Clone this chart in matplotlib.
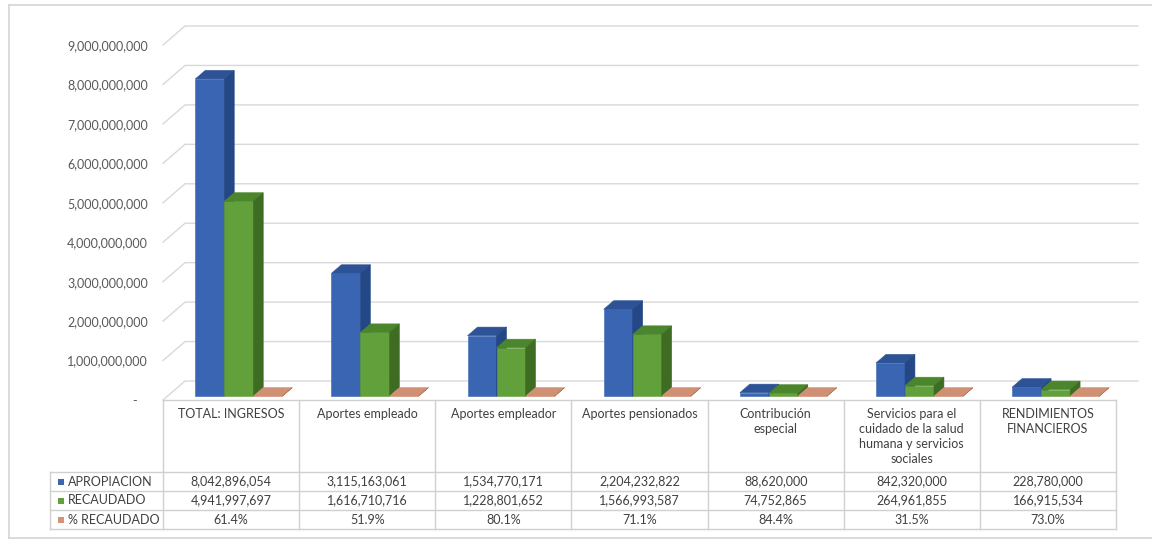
import numpy as np
import matplotlib.pyplot as plt
from matplotlib.patches import Polygon, Rectangle
from matplotlib.transforms import blended_transform_factory

plt.rcParams['font.family'] = ['Lato', 'DejaVu Sans']

categories = ['TOTAL: INGRESOS', 'Aportes empleado', 'Aportes empleador',
              'Aportes pensionados', 'Contribución\nespecial',
              'Servicios para el\ncuidado de la salud\nhumana y servicios\nsociales',
              'RENDIMIENTOS\nFINANCIEROS']
apropiacion = [8042896054, 3115163061, 1534770171, 2204232822, 88620000, 842320000, 228780000]
recaudado = [4941997697, 1616710716, 1228801652, 1566993587, 74752865, 264961855, 166915534]
pct_recaudado = [0.614, 0.519, 0.801, 0.711, 0.844, 0.315, 0.730]

series_names = ['APROPIACION', 'RECAUDADO', '% RECAUDADO']
# front, top, side
blue = ('#3a65b3', '#2d5296', '#244785')
green = ('#62a03b', '#4c862c', '#3e6c22')
salmon = ('#d39378', '#cf9074', '#b9785e')

W, H = 1152, 541
fig = plt.figure(figsize=(W / 100, H / 100), dpi=100)

def fy(py):
    return (H - py) / H

# outer chart frame (top, left, bottom; the right side runs off the page)
frame_c = '#d4d4d4'
for xs, ys in [([9, W], [5, 5]), ([9, 9], [5, 538]), ([9, W], [538, 538])]:
    fig.add_artist(plt.Line2D([v / W for v in xs], [fy(v) for v in ys],
                              color=frame_c, lw=1.2, transform=fig.transFigure))

ax = fig.add_axes([163 / W, fy(400), 953 / W, 355 / H])
ax.set_xlim(-0.5, 6.5)
ax.set_ylim(0, 9e9)
for s in ax.spines.values():
    s.set_visible(False)
ax.set_xticks([])
ticks = np.arange(0, 9.5e9, 1e9)
ax.set_yticks(ticks)
ax.set_yticklabels(['-   '] + [f'{t:,.0f}' for t in ticks[1:]])
ax.tick_params(axis='y', length=0, pad=11, labelsize=9, labelcolor='#595959')

# depth of the 3D box in data units
DX = 22 / 136
DY = 19 * 9e9 / 355

for t in ticks:
    ax.plot([-0.5, -0.5 + DX, 6.5 + DX], [t, t + DY, t + DY],
            color='#d9d9d9', lw=1, clip_on=False, zorder=1)


def bar3d(x0, w, v, cols, f0=0.2, f1=0.65):
    front, top, side = cols
    ax.add_patch(Rectangle((x0 + f0 * DX, f0 * DY), w, v, facecolor=front,
                           edgecolor=front, lw=0.4, clip_on=False, zorder=3))
    ax.add_patch(Polygon([(x0 + f0 * DX, v + f0 * DY), (x0 + w + f0 * DX, v + f0 * DY),
                          (x0 + w + f1 * DX, v + f1 * DY), (x0 + f1 * DX, v + f1 * DY)],
                         facecolor=top, edgecolor=top, lw=0.4, clip_on=False, zorder=3))
    ax.add_patch(Polygon([(x0 + w + f0 * DX, f0 * DY), (x0 + w + f1 * DX, f1 * DY),
                          (x0 + w + f1 * DX, v + f1 * DY), (x0 + w + f0 * DX, v + f0 * DY)],
                         facecolor=side, edgecolor=side, lw=0.4, clip_on=False, zorder=3))


bw = 0.213
x = np.arange(len(categories))
for i in x:
    bar3d(i - 0.295, bw, apropiacion[i], blue)
    bar3d(i - 0.295 + bw, bw, recaudado[i], green)
    bar3d(i - 0.295 + 2 * bw, bw, pct_recaudado[i], salmon)

# data table below the plot
tr = blended_transform_factory(ax.transData, fig.transFigure)
line_c = '#d0d0d0'
row_y = [400, 472, 491, 510, 529]
left_px = 50

for py in row_y[1:]:
    fig.add_artist(plt.Line2D([left_px / W, 1116 / W], [fy(py), fy(py)],
                              color=line_c, lw=1, transform=fig.transFigure))
fig.add_artist(plt.Line2D([left_px / W, left_px / W], [fy(472), fy(529)],
                          color=line_c, lw=1, transform=fig.transFigure))
for b in np.arange(-0.5, 7, 1):
    ax.plot([b, b], [fy(400), fy(529)], color=line_c, lw=1,
            transform=tr, clip_on=False)

# floor edge
ax.plot([-0.5, 6.5], [0, 0], color=line_c, lw=1, clip_on=False, zorder=2)

txt_c = '#404040'
for i, cat in enumerate(categories):
    ax.text(i, fy(408), cat, transform=tr, ha='center', va='top',
            fontsize=9, color=txt_c, linespacing=1.3)
    vals = [f'{apropiacion[i]:,.0f}', f'{recaudado[i]:,.0f}', f'{pct_recaudado[i] * 100:.1f}%']
    for r, v in enumerate(vals):
        cy = (row_y[r + 1] + row_y[r + 2]) / 2
        ax.text(i, fy(cy), v, transform=tr, ha='center', va='center',
                fontsize=9, color=txt_c)

for r, (name, cols) in enumerate(zip(series_names, [blue, green, salmon])):
    cy = (row_y[r + 1] + row_y[r + 2]) / 2
    fig.patches.append(Rectangle((58 / W, fy(cy + 3)), 6 / W, 6 / H,
                                 transform=fig.transFigure, facecolor=cols[0], lw=0))
    fig.text(68 / W, fy(cy), name, ha='left', va='center', fontsize=9, color=txt_c)

fig.savefig('out.png', dpi=100, facecolor='white')
